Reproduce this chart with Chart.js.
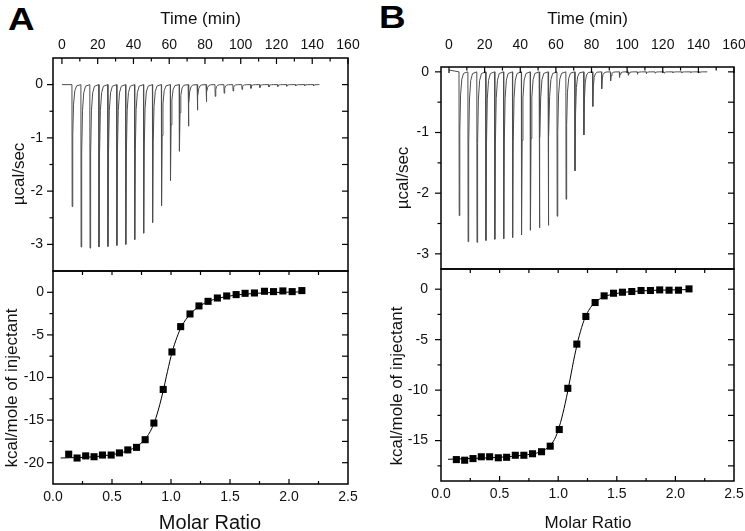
<!DOCTYPE html>
<html>
<head>
<meta charset="utf-8">
<title>ITC</title>
<script src="https://cdn.jsdelivr.net/npm/chart.js@4.4.1/dist/chart.umd.min.js"></script>
<style>
  body { margin: 0; background: #fff; }
  #fig { position: relative; width: 745px; height: 531px; overflow: hidden; font-family: Arial, "Liberation Sans", sans-serif; color: #111; }
  #fig canvas { position: absolute; }
  .letter { position: absolute; font-size: 32px; font-weight: bold; line-height: 1; color: #000; transform: scaleX(1.15); transform-origin: left top; }
  .ytitle { position: absolute; font-size: 17px; line-height: 1; white-space: nowrap; transform: translate(-50%, -50%) rotate(-90deg); }
  .xtitle { position: absolute; font-size: 17px; line-height: 1; white-space: nowrap; transform: translate(-50%, -50%); }
</style>
</head>
<body>
<div id="fig">
  <div class="letter" style="left:8px;top:3px">A</div>
  <div class="letter" style="left:379px;top:1px">B</div>
  <canvas id="topA" width="362" height="272" style="left:0;top:0"></canvas>
  <canvas id="botA" width="362" height="269" style="left:0;top:262px"></canvas>
  <canvas id="topB" width="365" height="272" style="left:380px;top:0"></canvas>
  <canvas id="botB" width="365" height="269" style="left:380px;top:262px"></canvas>
  <div class="ytitle" style="left:17.5px;top:173.5px">µcal/sec</div>
  <div class="ytitle" style="left:10.5px;top:387.5px">kcal/mole of injectant</div>
  <div class="ytitle" style="left:402px;top:177.5px">µcal/sec</div>
  <div class="ytitle" style="left:396px;top:386px">kcal/mole of injectant</div>
  <div class="xtitle" style="left:210px;top:522px;font-size:20px">Molar Ratio</div>
  <div class="xtitle" style="left:588px;top:522px">Molar Ratio</div>
</div>
<script>
Chart.defaults.font.family = 'Arial, "Liberation Sans", sans-serif';
Chart.defaults.color = '#111';

// raw thermograms: injection times (min) and peak heights (µcal/sec)
const injTimes = [5.6, 10.6, 15.6, 20.6, 25.6, 30.6, 35.6, 40.6, 45.6, 50.6, 55.6, 60.6, 65.6, 70.6,
  75.6, 80.6, 85.6, 90.6, 95.6, 100.6, 105.6, 110.6, 115.6, 120.6, 125.6, 130.6, 135.6, 140.6];
const peaksA = [-2.29, -3.05, -3.07, -3.05, -3.04, -3.02, -3.0, -2.91, -2.79, -2.59, -2.27, -1.8, -1.25, -0.78,
  -0.48, -0.32, -0.22, -0.16, -0.12, -0.09, -0.07, -0.055, -0.045, -0.035, -0.03, -0.025, -0.02, -0.02];
const peaksB = [-2.37, -2.8, -2.81, -2.78, -2.76, -2.75, -2.73, -2.69, -2.61, -2.57, -2.53, -2.38, -2.1, -1.63,
  -1.04, -0.57, -0.28, -0.15, -0.09, -0.055, -0.04, -0.03, -0.02, -0.02, -0.015, -0.015, -0.01, -0.01];
// shape of one injection peak: [minutes after injection, fraction of peak]
const spikeShape = [[0, 0], [0.12, 1], [0.45, 0.42], [0.9, 0.16], [1.6, 0.05], [2.6, 0.01]];

// integrated heats (kcal/mole of injectant) vs molar ratio
const ratioA = [0.133, 0.204, 0.277, 0.348, 0.419, 0.493, 0.563, 0.634, 0.708, 0.781, 0.855, 0.934, 1.008, 1.082,
  1.161, 1.237, 1.314, 1.393, 1.472, 1.552, 1.628, 1.707, 1.792, 1.869, 1.948, 2.027, 2.109];
const heatA = [-19.0, -19.45, -19.2, -19.3, -19.1, -19.1, -18.85, -18.5, -18.2, -17.3, -15.35, -11.4, -7.0, -4.03,
  -2.54, -1.6, -1.06, -0.67, -0.43, -0.27, -0.12, -0.08, 0.12, 0.08, 0.16, 0.08, 0.2];
const fitRatioA = [0.065, 0.2, 0.35, 0.5, 0.6, 0.7, 0.78, 0.84, 0.88, 0.93, 0.97, 1.01, 1.05, 1.09, 1.16, 1.24, 1.32, 1.4, 1.5, 1.6, 1.8, 2.11];
const fitHeatA = [-19.45, -19.4, -19.3, -19.05, -18.75, -18.15, -17.25, -15.9, -14.4, -11.8, -9.3, -7.0, -5.3, -4.0, -2.6, -1.65, -1.05, -0.7, -0.43, -0.25, -0.06, 0.05];

const ratioB = [0.131, 0.202, 0.273, 0.344, 0.415, 0.489, 0.56, 0.634, 0.707, 0.781, 0.858, 0.932, 1.009, 1.082,
  1.159, 1.236, 1.315, 1.392, 1.472, 1.548, 1.628, 1.707, 1.787, 1.866, 1.946, 2.026, 2.116];
const heatB = [-16.88, -16.94, -16.78, -16.6, -16.6, -16.7, -16.65, -16.45, -16.45, -16.3, -16.1, -15.55, -13.9, -9.82,
  -5.44, -2.7, -1.32, -0.66, -0.4, -0.3, -0.23, -0.13, -0.13, -0.07, -0.1, -0.1, 0.03];
const fitRatioB = [0.06, 0.3, 0.5, 0.7, 0.85, 0.93, 0.98, 1.02, 1.06, 1.1, 1.14, 1.18, 1.22, 1.26, 1.32, 1.4, 1.5, 1.6, 1.8, 2.12];
const fitHeatB = [-16.85, -16.75, -16.65, -16.45, -16.1, -15.5, -14.6, -13.2, -11.3, -9.0, -6.6, -4.6, -3.1, -2.1, -1.25, -0.72, -0.42, -0.26, -0.12, -0.04];

// tick values
const timeTicks = [0, 20, 40, 60, 80, 100, 120, 140, 160];
const timeMinor = [10, 30, 50, 70, 90, 110, 130, 150];
const rawTicks = [0, -1, -2, -3];
const rawMinor = [-0.5, -1.5, -2.5];
const rawHalf = [0, -0.5, -1, -1.5, -2, -2.5, -3];
const ratioTicks = [0, 0.5, 1, 1.5, 2, 2.5];
const ratioMajor = [0.5, 1, 1.5, 2];
const ratioMinor = [0.25, 0.75, 1.25, 1.75, 2.25];
const ratioQuarter = [0.25, 0.5, 0.75, 1, 1.25, 1.5, 1.75, 2, 2.25];
const heatTicksA = [0, -5, -10, -15, -20];
const heatTicksB = [0, -5, -10, -15];
const heatMinor = [-2.5, -7.5, -12.5, -17.5];
const heatRightA = [0, -2.5, -5, -7.5, -10, -12.5, -15, -17.5, -20];
const heatRightB = [0, -2.5, -5, -7.5, -10, -12.5, -15, -17.5];

function thermogram(peaks, start, end) {
  const pts = [{ x: 0, y: start }];
  injTimes.forEach((t, i) => {
    spikeShape.forEach(([dt, f]) => pts.push({ x: t + dt, y: peaks[i] * f }));
  });
  pts.push({ x: end, y: 0 });
  return pts;
}

function pairs(xs, ys) {
  return xs.map((x, i) => ({ x, y: ys[i] }));
}

// frame box plus Origin-style tick marks
const framePlugin = {
  id: 'frame',
  afterDraw(chart, args, opts) {
    const { ctx, chartArea: a, scales } = chart;
    ctx.save();
    ctx.strokeStyle = '#000';
    ctx.lineWidth = 1.2;
    (opts.marks || []).forEach(m => {
      const s = scales[m.axis];
      m.values.forEach(v => {
        const p = s.getPixelForValue(v);
        ctx.beginPath();
        if (m.side === 'top') { ctx.moveTo(p, a.top); ctx.lineTo(p, a.top + m.len); }
        else if (m.side === 'bottom') { ctx.moveTo(p, a.bottom); ctx.lineTo(p, a.bottom - m.len); }
        else if (m.side === 'left') { ctx.moveTo(a.left, p); ctx.lineTo(a.left - m.len, p); }
        else { ctx.moveTo(a.right, p); ctx.lineTo(a.right - m.len, p); }
        ctx.stroke();
      });
    });
    ctx.lineWidth = 1.5;
    ctx.strokeRect(a.left, a.top, a.right - a.left, a.bottom - a.top);
    ctx.restore();
  }
};

function rawChart(id, trace, g) {
  return new Chart(document.getElementById(id), {
    type: 'scatter',
    data: { datasets: [{ data: trace, showLine: true, borderColor: '#4d4d4d', borderWidth: 1, pointRadius: 0 }] },
    options: {
      responsive: false, animation: false, events: [],
      layout: { padding: { left: 0, top: 0, right: g.padRight, bottom: g.padBottom } },
      plugins: {
        legend: { display: false }, tooltip: { enabled: false },
        frame: { marks: [
          { axis: 'x', side: 'top', values: timeTicks, len: 6 },
          { axis: 'x', side: 'top', values: timeMinor, len: 3.5 },
          { axis: 'y', side: 'left', values: rawTicks, len: 6 },
          { axis: 'y', side: 'left', values: rawMinor, len: 3.5 },
          { axis: 'y', side: 'right', values: rawHalf, len: 6 }
        ] }
      },
      scales: {
        x: {
          type: 'linear', position: 'top', min: g.tmin, max: 160,
          grid: { display: false, drawTicks: false }, border: { display: false },
          afterBuildTicks: s => { s.ticks = timeTicks.map(v => ({ value: v })); },
          afterFit: s => { s.height = g.axisTop; s.paddingLeft = 0; s.paddingRight = 0; },
          ticks: { padding: g.tickPadX, font: { size: 14 }, maxRotation: 0, autoSkip: false },
          title: { display: true, text: 'Time (min)', font: { size: 17 }, padding: { top: 9, bottom: 0 } }
        },
        y: {
          type: 'linear', min: g.ymin, max: g.ymax,
          grid: { display: false, drawTicks: false }, border: { display: false },
          afterBuildTicks: s => { s.ticks = rawTicks.map(v => ({ value: v })); },
          afterFit: s => { s.width = g.axisLeft; s.paddingTop = 0; s.paddingBottom = 0; },
          ticks: { padding: g.tickPadY, font: { size: 14 } }
        }
      }
    },
    plugins: [framePlugin]
  });
}

function heatChart(id, pts, fit, yTicks, yRight, g) {
  return new Chart(document.getElementById(id), {
    type: 'scatter',
    data: { datasets: [
      { data: fit, showLine: true, borderColor: '#000', borderWidth: 1, pointRadius: 0, cubicInterpolationMode: 'monotone' },
      { data: pts, pointStyle: 'rect', pointRadius: 5, backgroundColor: '#000', borderColor: '#000', borderWidth: 0 }
    ] },
    options: {
      responsive: false, animation: false, events: [],
      layout: { padding: { left: 0, top: g.padTop, right: g.padRight, bottom: 0 } },
      plugins: {
        legend: { display: false }, tooltip: { enabled: false },
        frame: { marks: [
          { axis: 'x', side: 'top', values: ratioQuarter, len: 4 },
          { axis: 'x', side: 'bottom', values: ratioMajor, len: 5 },
          { axis: 'x', side: 'bottom', values: ratioMinor, len: 3 },
          { axis: 'y', side: 'left', values: yTicks, len: 6 },
          { axis: 'y', side: 'left', values: heatMinor, len: 3.5 },
          { axis: 'y', side: 'right', values: yRight, len: 6 }
        ] }
      },
      scales: {
        x: {
          type: 'linear', position: 'bottom', min: 0, max: 2.5,
          grid: { display: false, drawTicks: false }, border: { display: false },
          afterBuildTicks: s => { s.ticks = ratioTicks.map(v => ({ value: v })); },
          afterFit: s => { s.height = g.axisBottom; s.paddingLeft = 0; s.paddingRight = 0; },
          ticks: { padding: g.tickPadX, font: { size: 14 }, maxRotation: 0, autoSkip: false, callback: v => v.toFixed(1) }
        },
        y: {
          type: 'linear', min: g.ymin, max: g.ymax,
          grid: { display: false, drawTicks: false }, border: { display: false },
          afterBuildTicks: s => { s.ticks = yTicks.map(v => ({ value: v })); },
          afterFit: s => { s.width = g.axisLeft; s.paddingTop = 0; s.paddingBottom = 0; },
          ticks: { padding: g.tickPadY, font: { size: 14 } }
        }
      }
    },
    plugins: [framePlugin]
  });
}

rawChart('topA', thermogram(peaksA, 0, 144),
  { padRight: 14, padBottom: 1, axisTop: 58, axisLeft: 53, tickPadX: 4, tickPadY: 10, tmin: -5, ymin: -3.5, ymax: 0.5 });
heatChart('botA', pairs(ratioA, heatA), pairs(fitRatioA, fitHeatA), heatTicksA, heatRightA,
  { padTop: 9, padRight: 14, axisBottom: 47, axisLeft: 53, tickPadX: 5, tickPadY: 9, ymin: -22.5, ymax: 2.5 });
rawChart('topB', thermogram(peaksB, 0.03, 145),
  { padRight: 11, padBottom: 3, axisTop: 67, axisLeft: 61, tickPadX: 13, tickPadY: 12, tmin: -4.5, ymin: -3.25, ymax: 0.08 });
heatChart('botB', pairs(ratioB, heatB), pairs(fitRatioB, fitHeatB), heatTicksB, heatRightB,
  { padTop: 7, padRight: 11, axisBottom: 50, axisLeft: 61, tickPadX: 5, tickPadY: 13, ymin: -19, ymax: 2 });
</script>
</body>
</html>
